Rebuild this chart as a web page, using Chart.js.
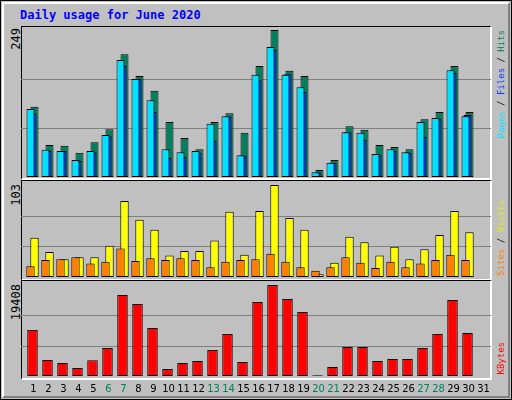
<!DOCTYPE html>
<html><head><meta charset="utf-8">
<script src="https://cdn.jsdelivr.net/npm/chart.js@4"></script>
<style>
body{margin:0;background:#fff}
#wrap{position:relative;width:512px;height:400px;background:#c0c0c0;box-sizing:border-box;border:1px solid #000;overflow:hidden}
#inner{position:absolute;left:1px;top:1px;right:1px;bottom:1px;border-top:2px solid #fff;border-left:2px solid #fff;border-right:2px solid #808080;border-bottom:2px solid #808080}
.panel{position:absolute;left:20px;width:471px;box-sizing:border-box;border-top:1px solid #000;border-left:1px solid #000;border-right:2px solid #fff;border-bottom:2px solid #fff}
canvas{position:absolute;left:0}
.v{position:absolute;writing-mode:vertical-rl;transform:rotate(180deg);font:9px "DejaVu Sans Mono",monospace;white-space:nowrap}
#title{position:absolute;left:19px;top:7px;font:bold 12px "DejaVu Sans Mono",monospace;color:#0000ff}
</style></head><body>
<div id="wrap"><div id="inner"></div>
<div id="title">Daily usage for June 2020</div>
<div class="panel" style="top:25px;height:154px"></div>
<div class="panel" style="top:179px;height:101px"></div>
<div class="panel" style="top:279px;height:100px"></div>
<div class="v" style="left:8px;top:27px;font-size:12px">249</div>
<div class="v" style="left:8px;top:183px;font-size:12px">103</div>
<div class="v" style="left:8px;top:283px;font-size:12px">19408</div>
<div class="v" style="left:495px;top:29px"><span style="color:#00e0ff">Pages</span> / <span style="color:#0040ff">Files</span> / <span style="color:#00805c">Hits</span></div>
<div class="v" style="left:495px;top:199px"><span style="color:#ff8000">Sites</span> / <span style="color:#e8e800">Visits</span></div>
<div class="v" style="left:495px;top:341px"><span style="color:#ff0000">KBytes</span></div>
<canvas id="c1" width="512" height="147" style="top:29.3px"></canvas>
<canvas id="c2" width="512" height="92" style="top:184.3px"></canvas>
<canvas id="c3" width="512" height="116" style="top:284.3px"></canvas>
</div>
<script>
const days=["1","2","3","4","5","6","7","8","9","10","11","12","13","14","15","16","17","18","19","20","21","22","23","24","25","26","27","28","29","30","31"];
const weekend=["6","7","13","14","20","21","27","28"];
const hits=[119,54,53,41,59,81,208,171,146,93,66,47,93,108,75,188,249,180,171,12,29,86,80,54,51,47,98,110,188,110,0];
const files=[107,44,44,27,42,69,188,166,110,32,34,41,61,102,36,164,215,174,144,7,24,76,63,37,44,41,68,98,176,105,0];
const pages=[115,46,44,29,44,71,198,166,130,47,42,44,90,103,37,173,220,173,152,8,24,76,75,39,47,42,93,100,181,103,0];
const visits=[44,28,20,22,22,35,85,64,53,24,29,29,41,73,25,74,103,66,53,3,16,45,39,24,34,20,31,47,74,50,0];
const sites=[12,19,20,22,15,17,32,18,21,19,21,19,11,17,19,20,26,17,11,7,11,22,16,10,17,11,15,19,25,19,0];
const kbytes=[9811,3412,2773,1706,3341,5972,17275,15356,10237,1493,2773,3199,5545,8958,2986,15782,19408,16422,13650,150,1919,6185,6185,3199,3626,3626,5972,8958,16209,9171,0];
const maxes=[249,103,19408];

const gridPlugin={id:'grid',beforeDatasetsDraw(ch){
  const y=ch.scales.y,ctx=ch.ctx;ctx.save();ctx.strokeStyle='#808080';ctx.lineWidth=1;
  [1,2].forEach(k=>{const p=Math.round(y.getPixelForValue(y.max*k/3))+0.5;ctx.beginPath();ctx.moveTo(20,p);ctx.lineTo(490,p);ctx.stroke();});
  ctx.restore();}};

function mk(id,datasets,max,cat,bar,showX){
  return new Chart(document.getElementById(id),{type:'bar',
    data:{labels:days,datasets:datasets.map((d,i)=>Object.assign({borderColor:'#000',borderWidth:1,categoryPercentage:cat,barPercentage:bar,borderSkipped:false,order:datasets.length-i},d))},
    plugins:[gridPlugin],
    options:{responsive:false,animation:false,events:[],
      layout:{padding:{left:24,right:23,top:0,bottom:0}},
      plugins:{legend:{display:false},tooltip:{enabled:false}},
      scales:{
        y:{min:0,max:max,display:true,grid:{display:false},border:{display:false},ticks:{display:false},afterFit:s=>{s.width=0}},
        x:{display:showX,grid:{display:false,drawTicks:false},border:{display:false},
           ticks:{padding:7,labelOffset:1,maxRotation:0,autoSkip:false,font:{family:'"DejaVu Sans"',size:10},color:c=>weekend.includes(days[c.index])?'#00805c':'#000'},
           afterFit:s=>{if(showX)s.height=25}}
      }}});
}
mk('c1',[{data:hits,backgroundColor:'#00805c'},{data:files,backgroundColor:'#0040ff'},{data:pages,backgroundColor:'#00e0ff'}],maxes[0],0.4,4,false);
mk('c2',[{data:visits,backgroundColor:'#ffff00'},{data:sites,backgroundColor:'#ff8000'}],maxes[1],0.533,2.1,false);
mk('c3',[{data:kbytes,backgroundColor:'#ff0000'}],maxes[2],1,0.7,true);
</script></body></html>
